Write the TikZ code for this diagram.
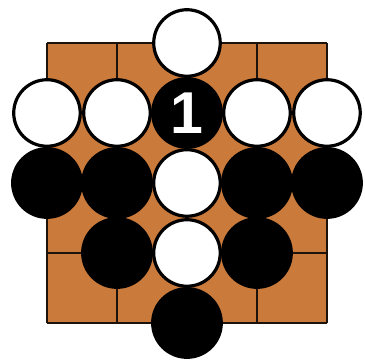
\documentclass[tikz,border=0pt]{standalone}
\usepackage{fontspec}
\setsansfont{Liberation Sans}
\definecolor{boardbrown}{RGB}{202,122,58}
\tikzset{
  whitestone/.style={circle, draw=black, fill=white, line width=1.3pt, minimum size=0.95cm, inner sep=0pt},
  blackstone/.style={circle, draw=black, fill=black, line width=1.3pt, minimum size=0.98cm, inner sep=0pt},
}
\begin{document}
\begin{tikzpicture}[scale=1]
  \useasboundingbox (-0.671,-0.557) rectangle (4.543,4.614);

  % board
  \fill[boardbrown] (0,0) rectangle (4,4);
  \draw[line width=1.1pt, black!85!brown] (0,0) grid (4,4);

  % white stones
  \node[whitestone] (w1) at (2,4) {};
  \node[whitestone] (w2) at (0,3) {};
  \node[whitestone] (w3) at (1,3) {};
  \node[whitestone] (w4) at (3,3) {};
  \node[whitestone] (w5) at (4,3) {};
  \node[whitestone] (w6) at (2,2) {};
  \node[whitestone] (w7) at (2,1) {};

  % black stones
  \node[blackstone, text=white, font=\sffamily\bfseries\fontsize{24}{24}\selectfont] (b1) at (2,3) {1};
  \node[blackstone] (b2) at (0,2) {};
  \node[blackstone] (b3) at (1,2) {};
  \node[blackstone] (b4) at (3,2) {};
  \node[blackstone] (b5) at (4,2) {};
  \node[blackstone] (b6) at (1,1) {};
  \node[blackstone] (b7) at (3,1) {};
  \node[blackstone] (b8) at (2,0) {};
\end{tikzpicture}
\end{document}
